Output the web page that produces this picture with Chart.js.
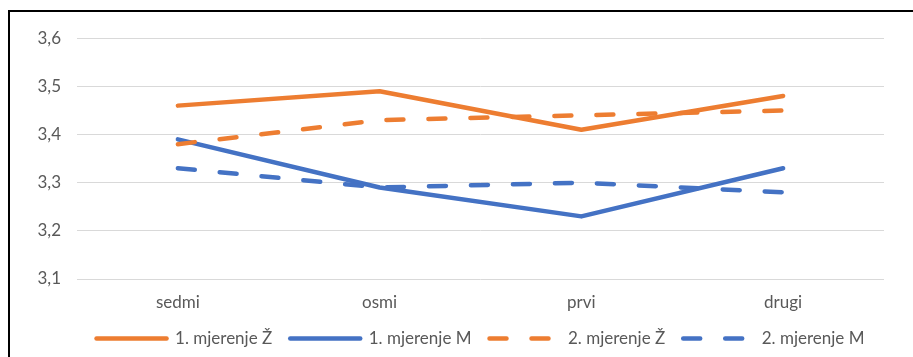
<!DOCTYPE html>
<html>
<head>
<meta charset="utf-8">
<script src="https://cdn.jsdelivr.net/npm/chart.js@4/dist/chart.umd.min.js"></script>
<style>
    html, body { margin: 0; padding: 0; background: #ffffff; }
    #frame {
        position: absolute;
        left: 8px;
        top: 10px;
        width: 903px;
        height: 345px;
        border-left: 2px solid #000000;
        border-top: 2px solid #000000;
    }
    #frame canvas { display: block; }
</style>
</head>
<body>
<div id="frame"><canvas id="chart" width="903" height="345"></canvas></div>
<script>
// categories (x axis)
const categories = ['sedmi', 'osmi', 'prvi', 'drugi'];

// series values
const series1Z = [3.46, 3.49, 3.41, 3.48];
const series1M = [3.39, 3.29, 3.23, 3.33];
const series2Z = [3.38, 3.43, 3.44, 3.45];
const series2M = [3.33, 3.29, 3.30, 3.28];

const seriesNames = ['1. mjerenje Ž', '1. mjerenje M', '2. mjerenje Ž', '2. mjerenje M'];

// value axis
const yMin = 3.1;
const yMax = 3.6;
const yStep = 0.1;

const orange = '#ED7D31';
const blue = '#4472C4';
const dash = [17, 25];
const lineW = 4.5;
const fontFamily = 'Lato';
const fontSize = 17;

function lineSet(label, data, color, borderDash, order) {
    return {
        label: label,
        data: data,
        borderColor: color,
        backgroundColor: color,
        borderWidth: lineW,
        borderDash: borderDash,
        borderCapStyle: 'round',
        borderJoinStyle: 'round',
        pointRadius: 0,
        pointHoverRadius: 0,
        tension: 0,
        fill: false,
        order: order
    };
}

const ctx = document.getElementById('chart').getContext('2d');
new Chart(ctx, {
    type: 'line',
    data: {
        labels: categories,
        datasets: [
            lineSet(seriesNames[0], series1Z, orange, [], 4),
            lineSet(seriesNames[1], series1M, blue, [], 3),
            lineSet(seriesNames[2], series2Z, orange, dash, 2),
            lineSet(seriesNames[3], series2M, blue, dash, 1)
        ]
    },
    options: {
        responsive: false,
        animation: false,
        layout: {
            padding: { left: 20, right: 29, top: 17, bottom: 0 }
        },
        scales: {
            x: {
                offset: true,
                grid: { display: false, drawTicks: false },
                border: { display: false },
                ticks: {
                    color: '#595959',
                    padding: 13,
                    font: { family: fontFamily, size: fontSize }
                },
                afterFit: function(scale) { scale.height = 33; }
            },
            y: {
                min: yMin,
                max: yMax,
                grid: { color: '#d9d9d9', lineWidth: 1, drawTicks: false },
                border: { display: false },
                ticks: {
                    stepSize: yStep,
                    color: '#595959',
                    padding: 16,
                    font: { family: fontFamily, size: fontSize },
                    callback: function(value) {
                        return value.toFixed(1).replace('.', ',');
                    }
                },
                afterFit: function(scale) { scale.width = 47; }
            }
        },
        plugins: {
            legend: {
                position: 'bottom',
                fullSize: false,
                labels: {
                    usePointStyle: true,
                    pointStyle: 'line',
                    pointStyleWidth: 70,
                    color: '#595959',
                    padding: 18,
                    font: { family: fontFamily, size: fontSize },
                    sort: function(a, b) { return a.datasetIndex - b.datasetIndex; },
                    generateLabels: function(chart) {
                        const items = Chart.defaults.plugins.legend.labels.generateLabels(chart);
                        items.forEach(function(item) {
                            const ds = chart.data.datasets[item.datasetIndex];
                            item.lineDash = ds.borderDash;
                            item.lineWidth = ds.borderWidth;
                            item.lineCap = 'round';
                            item.strokeStyle = ds.borderColor;
                        });
                        return items;
                    }
                }
            },
            tooltip: { enabled: false }
        }
    }
});
</script>
</body>
</html>
